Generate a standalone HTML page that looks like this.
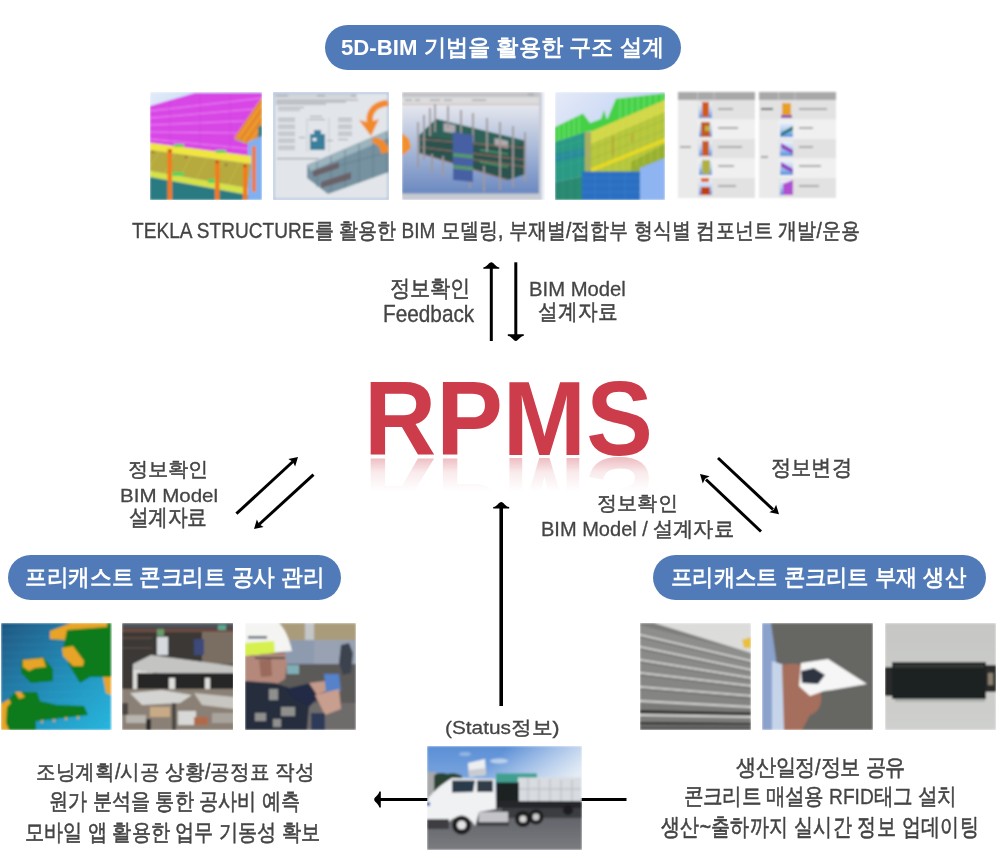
<!DOCTYPE html>
<html><head><meta charset="utf-8"><title>RPMS</title>
<style>
html,body{margin:0;padding:0;background:#fff;}
body{width:1000px;height:860px;position:relative;overflow:hidden;font-family:"Liberation Sans",sans-serif;}
.t{position:absolute;white-space:nowrap;transform-origin:0 0;line-height:1;margin:0;}
.n{-webkit-text-stroke:0.5px #444;filter:blur(0.3px);}
.n .l{-webkit-text-stroke:0.3px #444;}
svg.g{position:absolute;left:0;top:0;}
</style></head><body>
<svg class="g" width="1000" height="860" viewBox="0 0 1000 860">
<defs>
 <filter id="soft" x="-5%" y="-5%" width="110%" height="110%"><feGaussianBlur stdDeviation="0.9"/></filter>
 <clipPath id="cT1"><rect width="112" height="108"/></clipPath>
 <clipPath id="cT2"><rect width="116" height="108"/></clipPath>
 <clipPath id="cT3"><rect width="143" height="108"/></clipPath>
 <clipPath id="cT4"><rect width="110" height="108"/></clipPath>
 <clipPath id="cB"><rect width="111" height="107"/></clipPath>
 <clipPath id="cTr"><rect width="155" height="104"/></clipPath>
 <linearGradient id="gT1sky" x1="0" y1="0" x2="1" y2="1"><stop offset="0" stop-color="#e3ecf8"/><stop offset="1" stop-color="#7eaeee"/></linearGradient>
 <linearGradient id="gT3bg" x1="0" y1="0" x2="0" y2="1"><stop offset="0" stop-color="#e6e8ee"/><stop offset="1" stop-color="#6a88c0"/></linearGradient>
 <linearGradient id="gT4bg" x1="0" y1="0" x2="1" y2="1"><stop offset="0" stop-color="#e6eaf8"/><stop offset="1" stop-color="#a0c0f0"/></linearGradient>
 <linearGradient id="gL1" x1="0" y1="0" x2="1" y2="1"><stop offset="0" stop-color="#1f5682"/><stop offset="0.55" stop-color="#2390ba"/><stop offset="1" stop-color="#28b6de"/></linearGradient>
 <linearGradient id="gSky" x1="0" y1="0" x2="0" y2="1"><stop offset="0" stop-color="#5a8ed6"/><stop offset="1" stop-color="#c4daee"/></linearGradient>
 <linearGradient id="gRoad" x1="0" y1="0" x2="0" y2="1"><stop offset="0" stop-color="#5a5c62"/><stop offset="1" stop-color="#7a7c80"/></linearGradient>
 <linearGradient id="gR3" x1="0" y1="0" x2="0" y2="1"><stop offset="0" stop-color="#c6c7c4"/><stop offset="1" stop-color="#cfd0cd"/></linearGradient>
 <linearGradient id="gCloud" x1="0" y1="0" x2="1" y2="0.4"><stop offset="0.45" stop-color="#ffffff" stop-opacity="0"/><stop offset="1" stop-color="#f0f4f8" stop-opacity="0.9"/></linearGradient>
 <linearGradient id="gIcon" x1="0" y1="0" x2="0" y2="1"><stop offset="0" stop-color="#f0f4fa"/><stop offset="0.5" stop-color="#b8d0f0"/><stop offset="1" stop-color="#4a8ee0"/></linearGradient>
</defs>
<!-- ============ arrows ============ -->
<g stroke="#000" stroke-width="3" fill="none">
 <line x1="491.3" y1="341" x2="491.3" y2="266"/>
 <line x1="515.8" y1="262.3" x2="515.8" y2="337"/>
 <line x1="501.2" y1="706" x2="501.2" y2="506" stroke-width="3.6"/>
 <line x1="626.5" y1="799.5" x2="378" y2="799.5"/>
 <line x1="236.4" y1="513.7" x2="293" y2="461.5"/>
 <line x1="313.5" y1="474.7" x2="259" y2="524.5"/>
 <line x1="761" y1="531.5" x2="706" y2="479.5"/>
 <line x1="718" y1="458" x2="773" y2="509.5"/>
</g>
<g fill="#000">
 <path d="M0,0 C2.5,0 3.5,4 8,5.2 L8,6.6 L-8,6.6 L-8,5.2 C-3.5,4 -2.5,0 0,0 Z" transform="translate(491.3,262.2)"/>
 <path d="M0,0 C2.5,0 3.5,4 8,5.2 L8,6.6 L-8,6.6 L-8,5.2 C-3.5,4 -2.5,0 0,0 Z" transform="translate(515.8,340.9) rotate(180)"/>
 <path d="M0,0 C2.5,0 3.5,4 8,5.2 L8,6.6 L-8,6.6 L-8,5.2 C-3.5,4 -2.5,0 0,0 Z" transform="translate(501.2,501.9)"/>
 <path d="M0,0 C2.5,0 3.5,4 8,5.2 L8,6.6 L-8,6.6 L-8,5.2 C-3.5,4 -2.5,0 0,0 Z" transform="translate(374.2,799.5) rotate(-90)"/>
 <path d="M0 0 L-8.5 -5 L-7 0 L-8.5 5 Z" transform="translate(298,457) rotate(-42.6)"/>
 <path d="M0 0 L-8.5 -5 L-7 0 L-8.5 5 Z" transform="translate(254,529) rotate(137.3)"/>
 <path d="M0 0 L-8.5 -5 L-7 0 L-8.5 5 Z" transform="translate(700,474) rotate(-136.7)"/>
 <path d="M0 0 L-8.5 -5 L-7 0 L-8.5 5 Z" transform="translate(779,514.3) rotate(42.6)"/>
</g>


<!-- ============ T1 ============ -->
<g transform="translate(150,92)" clip-path="url(#cT1)" filter="url(#soft)">
 <rect width="112" height="108" fill="url(#gT1sky)"/>
 <polygon points="0,14 45,1 112,1 112,5 84,46 103,51 101,64 0,51" fill="#d846e6"/>
 <g stroke="#f29af6" stroke-width="0.9" opacity="0.85">
  <line x1="0" y1="19" x2="112" y2="6"/><line x1="0" y1="26" x2="104" y2="17"/><line x1="0" y1="33" x2="94" y2="29"/><line x1="0" y1="40" x2="88" y2="41"/><line x1="0" y1="47" x2="100" y2="57"/>
 </g>
 <g stroke="#b030c0" stroke-width="0.5" opacity="0.5"><line x1="20" y1="8" x2="20" y2="53"/><line x1="50" y1="2" x2="50" y2="56"/><line x1="80" y1="2" x2="80" y2="60"/></g>
 <polygon points="112,5 112,44 97,52 84,46" fill="#e48a2a"/>
 <g stroke="#f8a838" stroke-width="1.3"><line x1="88" y1="46" x2="112" y2="12"/><line x1="93" y1="49" x2="112" y2="22"/><line x1="99" y1="51" x2="112" y2="32"/></g><g stroke="#90c850" stroke-width="1"><line x1="85" y1="47" x2="96" y2="51"/></g><polygon points="108,35 112,33 112,44 108,46" fill="#2a7a80"/>
 <polygon points="98,50 112,44 112,108 98,108" fill="#7eb0f2"/>
 <polygon points="0,51 101,64 101,72 0,58" fill="#f0e63c"/>
 <polygon points="0,58 101,72 98,96 0,79" fill="#b6a93e"/>
 <g stroke="#d4c458" stroke-width="0.7" opacity="0.7"><line x1="10" y1="59" x2="0" y2="75"/><line x1="26" y1="61" x2="14" y2="81"/><line x1="42" y1="63" x2="30" y2="84"/><line x1="58" y1="65" x2="46" y2="87"/><line x1="74" y1="68" x2="62" y2="90"/><line x1="90" y1="70" x2="78" y2="93"/></g>
 <polygon points="0,79 98,96 98,103 0,85" fill="#d6e244"/>
 <polygon points="0,85 98,103 98,108 0,108" fill="#2b7a82"/>
 <g fill="#5cd25c"><rect x="22" y="80" width="12" height="4"/><rect x="58" y="87" width="12" height="4"/><rect x="24" y="52" width="10" height="3"/><rect x="66" y="58" width="10" height="3"/></g>
 <g fill="#f27a1c">
  <rect x="17.5" y="57" width="4.5" height="51"/><rect x="65" y="68" width="4.5" height="40"/><rect x="93" y="72" width="4.5" height="36"/><rect x="102" y="54" width="4" height="46"/>
 </g>
 <g fill="#8a3a20"><circle cx="20" cy="59" r="1.2"/><circle cx="67" cy="70" r="1.2"/><circle cx="95" cy="74" r="1.2"/><circle cx="3" cy="60" r="1"/><circle cx="36" cy="65" r="1"/><circle cx="76" cy="73" r="1"/></g>
</g>

<!-- ============ T2 ============ -->
<g transform="translate(273,92)" clip-path="url(#cT2)" filter="url(#soft)">
 <rect width="116" height="108" fill="#e2e5e9"/>
 <rect x="0.6" y="0.6" width="114.8" height="106.8" fill="none" stroke="#8fb0da" stroke-width="1.3"/>
 <rect x="2" y="2" width="82" height="4" fill="#d0d3d8"/>
 <g fill="#9aa0a8">
  <rect x="3" y="3" width="12" height="1.2"/><rect x="44" y="3" width="8" height="1.2"/><rect x="78" y="3" width="5" height="1.2"/>
  <rect x="3" y="7.5" width="82" height="1"/><rect x="3" y="9.5" width="70" height="1"/><rect x="3" y="11.5" width="50" height="1"/>
  <rect x="5" y="15" width="26" height="1"/><rect x="5" y="17.5" width="22" height="1"/>
  <rect x="5" y="26" width="17" height="1"/><rect x="5" y="28.5" width="17" height="1"/>
  <rect x="5" y="33" width="17" height="1"/><rect x="5" y="35.5" width="17" height="1"/>
  <rect x="5" y="40" width="17" height="1"/><rect x="5" y="42.5" width="17" height="1"/>
  <rect x="5" y="47" width="17" height="1"/><rect x="5" y="49.5" width="17" height="1"/>
  <rect x="5" y="54" width="17" height="1"/><rect x="5" y="56.5" width="17" height="1"/>
  <rect x="37" y="24" width="12" height="1"/><rect x="36" y="27" width="16" height="1"/>
  <rect x="65" y="26" width="14" height="1"/><rect x="65" y="28.5" width="14" height="1"/>
  <rect x="65" y="33" width="14" height="1"/><rect x="65" y="35.5" width="14" height="1"/>
  <rect x="65" y="40" width="14" height="1"/><rect x="65" y="42.5" width="14" height="1"/>
  <rect x="65" y="47" width="10" height="1"/><rect x="26" y="45" width="6" height="1"/><rect x="54" y="48" width="6" height="1"/>
  <rect x="4" y="66" width="42" height="1.2"/>
 </g>
 <g stroke="#b4b8c0" stroke-width="0.6"><line x1="34" y1="26" x2="34" y2="60"/><line x1="56" y1="26" x2="56" y2="60"/></g>
 <path d="M37,42 L41,42 L41,38 L48,38 L48,42 L52,42 L52,58 L37,58 Z" fill="#3a7e9c"/>
 <rect x="39.5" y="46" width="4" height="3" fill="#e8eef2"/>
 <polygon points="34,73 116,38 116,80 55,102 34,86" fill="#7692a0"/>
 <polygon points="34,73 116,38 116,46 38,79" fill="#9cb4be"/>
 <g stroke="#5f7a86" stroke-width="0.8"><line x1="44" y1="70" x2="44" y2="95"/><line x1="58" y1="64" x2="58" y2="100"/><line x1="72" y1="58" x2="72" y2="96"/><line x1="86" y1="52" x2="86" y2="91"/><line x1="100" y1="46" x2="100" y2="86"/><line x1="114" y1="40" x2="114" y2="81"/><line x1="38" y1="81" x2="116" y2="60"/></g>
 <g fill="#6a5a5e" opacity="0.85"><polygon points="40,79 66,70 66,76 40,85"/><polygon points="48,90 78,80 78,87 48,96"/></g>
 <path d="M114,8 C100,9 92,19 94,30 L86,28 L98,44 L106,27 L100,29 C99,21 104,15 116,14 Z" fill="#f28a2c"/>
 <path d="M102,45 C111,47 116,53 116,60 L108,62 C108,55 103,51 98,50 Z" fill="#f28a2c"/>
</g>

<!-- ============ T3 ============ -->
<g transform="translate(402,92)" clip-path="url(#cT3)" filter="url(#soft)">
 <rect width="143" height="108" fill="#e8ecf4"/>
 <rect y="12" width="137" height="90" fill="url(#gT3bg)"/>
 <rect width="137" height="5.5" fill="#c4c4c8"/>
 <rect y="5.5" width="137" height="6.8" fill="#dcdcdc"/>
 <rect y="12" width="137" height="0.8" fill="#c8a8a8"/>
 <g fill="#a8aaae"><rect x="3" y="7.5" width="7" height="1.5"/><rect x="13" y="7.5" width="5" height="1.5"/><rect x="28" y="7.5" width="10" height="1.5"/><rect x="42" y="7.5" width="8" height="1.5"/><rect x="70" y="7.5" width="14" height="1.5"/><rect x="126" y="1.5" width="6" height="2"/></g>
 <rect x="137" y="0" width="3" height="108" fill="#c8ccd6"/>
 <rect x="140" y="0" width="3" height="108" fill="#eef2f8"/>
 <rect y="101.5" width="137" height="6.5" fill="#c6cad2"/>
 <!-- building -->
 <polygon points="17.5,43 34,27 124,49 124,82 106,88 17.5,61" fill="#29524f"/>
 <polygon points="17.5,43 34,27 124,49 110,56" fill="#2f6258"/>
 <g fill="#b0aab0"><polygon points="41.5,31 53.5,33 53.5,41.5 41.5,39.5"/><polygon points="92.5,46 106,49 106,56.5 92.5,54"/></g>
 <g stroke="#9c6c5c" stroke-width="1.1">
  <line x1="17.5" y1="47" x2="124" y2="56"/><line x1="17.5" y1="55" x2="124" y2="68"/><line x1="17.5" y1="61" x2="106" y2="88"/>
  <line x1="60" y1="66" x2="124" y2="75"/>
 </g>
 <g stroke="#5aa86a" stroke-width="1.5" opacity="0.8"><line x1="78" y1="58" x2="106" y2="62"/><line x1="78" y1="70" x2="106" y2="75"/></g>
 <g stroke="#a09898" stroke-width="1.8">
  <line x1="16" y1="30" x2="16" y2="76"/><line x1="22" y1="23" x2="22" y2="68"/><line x1="28" y1="16" x2="28" y2="44"/><line x1="33" y1="12" x2="33" y2="40"/>
  <line x1="46" y1="14" x2="46" y2="36"/><line x1="59" y1="18" x2="59" y2="46"/><line x1="71" y1="21" x2="71" y2="50"/><line x1="85" y1="26" x2="85" y2="60"/>
  <line x1="98" y1="30" x2="98" y2="98"/><line x1="111" y1="34" x2="111" y2="95"/><line x1="123" y1="40" x2="123" y2="90"/>
  <line x1="30" y1="62" x2="30" y2="81"/><line x1="41" y1="64" x2="41" y2="85"/><line x1="68" y1="70" x2="68" y2="96"/><line x1="82" y1="74" x2="82" y2="100"/>
 </g>
 <polygon points="51,40 71,43 71,90 51,88" fill="#4760a4"/>
 <polygon points="51,61 71,63 71,66.5 51,64.5" fill="#5a9a62"/>
 <polygon points="51,73 71,75 71,78.5 51,76.5" fill="#5a9a62"/>
 <polygon points="0,41 7,47 9,56 0,64" fill="#f2902c"/>
</g>

<!-- ============ T4 ============ -->
<g transform="translate(555,92)" clip-path="url(#cT4)" filter="url(#soft)">
 <rect width="110" height="108" fill="url(#gT4bg)"/>
 <polygon points="0,35 28,21.5 35,31 46,27 49,18 52,28 61,6.7 110,1.3 110,12 60,36 30,40 0,50" fill="#44d044"/>
 <g stroke="#a0f0a0" stroke-width="0.7" opacity="0.9"><line x1="4" y1="34" x2="4" y2="48"/><line x1="9" y1="31" x2="9" y2="47"/><line x1="14" y1="29" x2="14" y2="46"/><line x1="19" y1="26" x2="19" y2="45"/><line x1="24" y1="24" x2="24" y2="43"/><line x1="65" y1="7" x2="65" y2="33"/><line x1="71" y1="6" x2="71" y2="30"/><line x1="77" y1="5" x2="77" y2="27"/><line x1="83" y1="4" x2="83" y2="24"/><line x1="89" y1="3" x2="89" y2="21"/><line x1="95" y1="3" x2="95" y2="18"/><line x1="101" y1="2" x2="101" y2="15"/><line x1="107" y1="2" x2="107" y2="13"/></g>
 <polygon points="0,50 30,40 30,84 0,90" fill="#2c9a84"/>
 <polygon points="0,62 30,56 30,64 0,70" fill="#2a7ab0" opacity="0.5"/>
 <polygon points="0,90 30,84 30,108 0,108" fill="#2a8870"/>
 <polygon points="34,40.5 110,8 110,75.5 85,85 34,82" fill="#b4c63c"/>
 <polygon points="34,40.5 110,8 110,20 36,52" fill="#d2d84a"/>
 <polygon points="76,70 110,52 110,75.5 85,85 76,84" fill="#98b032"/>
 <polygon points="34,77 110,46 110,50 34,81" fill="#e8d822"/>
 <polygon points="30,40 36,40 36,82 30,84" fill="#a8b060"/>
 <g stroke="#c07030" stroke-width="0.9" opacity="0.75"><line x1="58" y1="44" x2="58" y2="64"/><line x1="77" y1="42" x2="77" y2="50"/></g>
 <g stroke="#e0e860" stroke-width="0.6" opacity="0.55">
  <line x1="40" y1="40" x2="40" y2="82"/><line x1="47" y1="37" x2="47" y2="82"/><line x1="54" y1="34" x2="54" y2="80"/><line x1="61" y1="31" x2="61" y2="79"/><line x1="68" y1="28" x2="68" y2="78"/><line x1="75" y1="25" x2="75" y2="76"/><line x1="82" y1="22" x2="82" y2="74"/><line x1="89" y1="19" x2="89" y2="72"/><line x1="96" y1="16" x2="96" y2="70"/><line x1="103" y1="13" x2="103" y2="68"/>
 </g>
 <g stroke="#889830" stroke-width="0.5" opacity="0.5"><line x1="34" y1="58" x2="110" y2="28"/><line x1="34" y1="68" x2="110" y2="38"/></g>
 <g stroke="#40c0a0" stroke-width="0.5" opacity="0.5"><line x1="0" y1="56" x2="30" y2="48"/><line x1="0" y1="66" x2="30" y2="58"/><line x1="0" y1="76" x2="30" y2="68"/><line x1="8" y1="48" x2="8" y2="108"/><line x1="16" y1="46" x2="16" y2="108"/><line x1="24" y1="44" x2="24" y2="108"/></g>
 <polygon points="27,79.5 85,79.5 85,108 27,108" fill="#2c70c2"/>
 <g stroke="#4a90d8" stroke-width="0.5" opacity="0.6"><line x1="27" y1="86" x2="85" y2="86"/><line x1="27" y1="93" x2="85" y2="93"/><line x1="27" y1="100" x2="85" y2="100"/><line x1="40" y1="80" x2="40" y2="108"/><line x1="55" y1="80" x2="55" y2="108"/><line x1="70" y1="80" x2="70" y2="108"/></g>
 <polygon points="85,76 110,66 110,108 85,108" fill="#8eb4f2"/>
</g>

<!-- ============ T5 tables ============ -->
<g transform="translate(678,92)" filter="url(#soft)">
 <g id="tbl">
  <rect x="0" y="0" width="77" height="106" fill="#eaeaea"/>
  <rect x="0" y="0" width="77" height="8" fill="#a8a8a8"/>
  <rect x="19.5" y="8" width="57.5" height="19.5" fill="#e2e2e2"/>
  <rect x="19.5" y="27.5" width="57.5" height="19.5" fill="#f0f0f0"/>
  <rect x="19.5" y="47" width="57.5" height="19.5" fill="#e2e2e2"/>
  <rect x="19.5" y="66.5" width="57.5" height="19.5" fill="#f0f0f0"/>
  <rect x="19.5" y="86" width="57.5" height="20" fill="#e2e2e2"/>
  <g fill="#c4c4c4"><rect x="19" y="0" width="1" height="8"/><rect x="35.5" y="0" width="1" height="8"/></g>
 </g>
 <g fill="#a8a8a8">
  <rect x="40" y="16" width="15" height="2"/><rect x="40" y="35" width="20" height="2"/><rect x="40" y="54" width="24" height="2"/><rect x="40" y="73" width="16" height="2"/><rect x="40" y="93" width="18" height="2"/>
  <rect x="2" y="54" width="11" height="2"/>
 </g>
 <g>
  <rect x="21" y="11" width="13" height="15" fill="url(#gIcon)"/><rect x="24" y="10" width="7" height="15" fill="#d05a18"/>
  <rect x="21" y="30" width="13" height="15" fill="url(#gIcon)"/><rect x="23" y="30" width="9" height="15" fill="#c05a20"/><rect x="27" y="34" width="5" height="5" fill="#c0b040"/>
  <rect x="21" y="49" width="13" height="15" fill="url(#gIcon)"/><rect x="24" y="49" width="7" height="15" fill="#c85a20"/>
  <rect x="21" y="68" width="13" height="15" fill="url(#gIcon)"/><rect x="24" y="68" width="8" height="14" fill="#b0b040"/>
  <rect x="21" y="88" width="13" height="15" fill="url(#gIcon)"/><rect x="23" y="86" width="8" height="4" fill="#e06020"/><rect x="23" y="95" width="9" height="8" fill="#c04010"/>
 </g>
 <g transform="translate(81,0)">
  <rect x="0" y="0" width="77" height="106" fill="#eaeaea"/>
  <rect x="0" y="0" width="77" height="8" fill="#a8a8a8"/>
  <rect x="0" y="8" width="77" height="19.5" fill="#e2e2e2"/>
  <rect x="19.5" y="27.5" width="57.5" height="19.5" fill="#f0f0f0"/>
  <rect x="19.5" y="47" width="57.5" height="19.5" fill="#e2e2e2"/>
  <rect x="19.5" y="66.5" width="57.5" height="19.5" fill="#f0f0f0"/>
  <rect x="19.5" y="86" width="57.5" height="20" fill="#e2e2e2"/>
  <g fill="#c4c4c4"><rect x="19" y="0" width="1" height="8"/><rect x="35.5" y="0" width="1" height="8"/></g>
  <g fill="#a8a8a8"><rect x="40" y="16" width="28" height="2"/><rect x="40" y="35" width="14" height="2"/><rect x="40" y="54" width="14" height="2"/><rect x="40" y="73" width="22" height="2"/><rect x="40" y="93" width="20" height="2"/></g>
  <rect x="2" y="16" width="12" height="2" fill="#606060"/><rect x="2" y="64" width="7" height="2" fill="#a0a0a0"/>
  <rect x="23" y="11" width="9" height="13" fill="#e8a020"/><rect x="22" y="23" width="11" height="3" fill="#9050b0"/>
  <rect x="21" y="30" width="13" height="15" fill="url(#gIcon)"/><polygon points="22,41 34,34 34,38 22,44" fill="#207070"/>
  <rect x="21" y="49" width="13" height="15" fill="url(#gIcon)"/><polygon points="22,51 34,58 34,62 22,56" fill="#9040c0"/>
  <rect x="21" y="68" width="13" height="15" fill="url(#gIcon)"/><polygon points="22,70 34,77 34,81 22,75" fill="#9040c0"/>
  <rect x="21" y="88" width="13" height="15" fill="url(#gIcon)"/><polygon points="24,92 34,88 34,103 24,103" fill="#b050d0"/>
 </g>
</g>

<!-- ============ L1 ============ -->
<g transform="translate(1,623)" clip-path="url(#cB)" filter="url(#soft)">
 <rect width="110" height="107" fill="url(#gL1)"/>
 <g stroke="#46b4e0" stroke-width="0.5" opacity="0.35">
  <line x1="0" y1="6" x2="110" y2="4"/><line x1="0" y1="14" x2="110" y2="12"/><line x1="0" y1="22" x2="110" y2="20"/><line x1="0" y1="30" x2="110" y2="28"/><line x1="0" y1="38" x2="110" y2="36"/><line x1="0" y1="46" x2="110" y2="44"/><line x1="0" y1="54" x2="110" y2="52"/><line x1="0" y1="62" x2="110" y2="60"/><line x1="0" y1="70" x2="110" y2="68"/><line x1="0" y1="78" x2="110" y2="76"/><line x1="0" y1="86" x2="110" y2="84"/><line x1="0" y1="94" x2="110" y2="92"/><line x1="0" y1="102" x2="110" y2="100"/>
 </g>
 <polygon points="49,8 70,0 110,0 110,54 89,54 79,60 68,42 62,25 64,17 49,16" fill="#0b7a1e"/>
 <polygon points="70,0 106,0 106,4 66,7 64,17 49,16 49,8" fill="#e8a426"/>
 <polygon points="61,25 72,23 83,38 82,43 72,43 62,33" fill="#e8a426"/>
 <polygon points="20,37 42,34 52,46 52,58 30,60 20,50" fill="#0b7a1e"/>
 <polygon points="22,37 42,35 45,44 34,45 28,48 22,44" fill="#e8a426"/>
 <polygon points="0,81 8,76 14,69 36,69 39,78 56,82 83,83 87,92 35,98 35,107 0,107" fill="#0b7a1e"/>
 <polygon points="0,81 8,76 10,80 6,84 5,100 8,107 0,107" fill="#e8a426"/>
 <polygon points="14,69 20,69 24,74 18,76" fill="#e8a426"/>
 <g fill="#e8a426" opacity="0.8"><rect x="40" y="97" width="2" height="3"/><rect x="52" y="96" width="2" height="3"/><rect x="64" y="94" width="2" height="3"/><rect x="76" y="93" width="2" height="3"/></g>
 <polygon points="102,54 110,54 110,72 105,70" fill="#e8a426"/>
</g>

<!-- ============ L2 ============ -->
<g transform="translate(122,623)" clip-path="url(#cB)" filter="url(#soft)">
 <rect width="112" height="107" fill="#3a3836"/>
 <rect x="0" y="0" width="112" height="5" fill="#50525a"/>
 <rect x="0" y="6" width="112" height="3" fill="#6e4c42"/>
 <rect x="0" y="14" width="30" height="2" fill="#5a4a44"/>
 <rect x="0" y="24" width="30" height="2" fill="#4e4644"/>
 <rect x="80" y="9" width="32" height="32" fill="#7a6e62"/>
 <rect x="72" y="16" width="10" height="16" fill="#3c4a78"/>
 <rect x="35" y="14" width="11" height="18" fill="#d6dade"/>
 <rect x="35" y="6" width="7" height="7" fill="#6a9a6a"/>
 <rect x="96" y="2" width="8" height="5" fill="#5aa890"/>
 <polygon points="11,41 29,32 112,43 112,53 48,52 11,46" fill="#c4c4c2"/>
 <polygon points="11,46 48,52 48,56 11,50" fill="#e2e2de"/>
 <polygon points="48,52 112,53 112,58 48,56" fill="#d8d8d4"/>
 <rect x="12" y="50" width="100" height="18" fill="#262626"/>
 <g fill="#dededa"><rect x="11" y="48" width="4" height="22"/><rect x="47" y="55" width="6" height="24"/><rect x="83" y="55" width="5" height="20"/></g>
 <rect x="0" y="66" width="112" height="41" fill="#8a8074"/>
 <polygon points="8,70 40,67 70,72 58,80 20,82" fill="#d4d4d2"/>
 <polygon points="72,70 112,74 112,86 80,82" fill="#c8c6c0"/>
 <rect x="28" y="84" width="20" height="10" fill="#c8aa86"/>
 <rect x="56" y="88" width="18" height="14" fill="#d8d8d6"/>
 <rect x="72" y="94" width="14" height="8" fill="#b06a48"/>
 <rect x="90" y="90" width="22" height="10" fill="#a8a49c"/>
 <rect x="4" y="92" width="20" height="8" fill="#b8b4ae"/>
 <rect x="0" y="80" width="6" height="12" fill="#4a4440"/>
 <rect x="24" y="96" width="5" height="11" fill="#2a2a2a"/>
 <rect x="50" y="80" width="4" height="27" fill="#4a4644"/>
</g>

<!-- ============ L3 ============ -->
<g transform="translate(245,623)" clip-path="url(#cB)" filter="url(#soft)">
 <rect width="111" height="107" fill="#5e5c5a"/>
 <rect x="30" y="0" width="81" height="18" fill="#aa9c7a"/>
 <rect x="60" y="0" width="9" height="37" fill="#c4c6c8"/>
 <rect x="40" y="17" width="71" height="24" fill="#8e9aae"/>
 <rect x="69" y="17" width="42" height="24" fill="#98a2b2"/>
 <rect x="40" y="41" width="71" height="66" fill="#5c5a58"/>
 <rect x="60" y="80" width="51" height="27" fill="#6e6c6a"/>
 <rect x="42" y="42" width="12" height="9" fill="#80aeb6"/>
 <path d="M96,22 L104,20 L108,30 L106,50 L98,52 L94,40 Z" fill="#3c4250"/>
 <path d="M0,0 L34,0 C40,6 44,16 46,24 L47,28 L0,33 Z" fill="#f4f4f2"/>
 <polygon points="0,20 29,18 30,30 0,33" fill="#d6f04e"/>
 <rect x="3" y="13" width="19" height="2.5" fill="#5a6878"/>
 <polygon points="0,33 40,30 42,42 40,56 30,62 0,60" fill="#b4887a"/>
 <polygon points="14,37 26,36 27,53 16,54" fill="#9a6a5c"/>
 <rect x="10" y="34" width="30" height="2" fill="#505050"/>
 <polygon points="0,58 30,60 42,64 58,72 64,84 62,107 0,107" fill="#262e3e"/>
 <g fill="#aaa8a2" opacity="0.8"><rect x="24" y="66" width="9" height="11"/><rect x="36" y="84" width="14" height="9"/><rect x="10" y="90" width="11" height="8"/><rect x="28" y="96" width="8" height="8"/></g>
 <polygon points="40,66 66,60 78,70 64,84 48,76" fill="#232c44"/>
 <polygon points="64,60 80,58 86,66 72,72" fill="#c49a8a"/>
 <polygon points="79,51 94,51 96,68 81,70" fill="#5482c8"/>
 <polygon points="70,72 94,66 96,86 80,92" fill="#c89e8e"/>
 <rect x="66" y="90" width="14" height="17" fill="#2e3a58"/>
</g>

<!-- ============ Truck ============ -->
<g transform="translate(427,746)" clip-path="url(#cTr)" filter="url(#soft)">
 <rect width="155" height="104" fill="url(#gSky)"/>
 <rect width="155" height="62" fill="url(#gCloud)"/>
 <ellipse cx="72" cy="15" rx="9" ry="2.5" fill="#d6e4f2" opacity="0.7"/>
 <ellipse cx="38" cy="8" rx="6" ry="2" fill="#a8c4e8" opacity="0.7"/>
 <rect x="0" y="26" width="9" height="28" fill="#a6a8aa"/>
 <path d="M7,30 C10,26 16,27 20,28 C26,26 32,28 35,30 L35,52 L7,52 Z" fill="#2a4230"/>
 <rect x="0" y="60" width="155" height="44" fill="url(#gRoad)"/>
 <polygon points="41,17 58,13 59,29 42,31" fill="#eceef0"/>
 <polygon points="42,24 59,22 59,29 42,31" fill="#c8ccd2"/>
 <rect x="69" y="27.4" width="41" height="9.5" fill="#3fa090"/>
 <rect x="91" y="31.5" width="63" height="24" fill="#d8dce0"/>
 <g stroke="#a8aeb4" stroke-width="0.7"><line x1="101" y1="32" x2="101" y2="55"/><line x1="112" y1="33" x2="112" y2="55"/><line x1="123" y1="33" x2="123" y2="55"/><line x1="134" y1="34" x2="134" y2="55"/><line x1="145" y1="34" x2="145" y2="55"/><line x1="91" y1="43" x2="154" y2="43"/></g>
 <rect x="69" y="36.5" width="23" height="22" fill="#1c2024"/>
 <rect x="69" y="55" width="86" height="7" fill="#25272a"/>
 <rect x="75" y="62" width="80" height="10" fill="#34363a" opacity="0.85"/>
 <path d="M0,54 C4,48 14,38 25,32 L68,33 L69,63 L52,66 L48,80 C44,70 28,68 22,76 L0,76 Z" fill="#f0f1f3"/>
 <polygon points="25,34.5 48,34.5 46,46 25,46.5" fill="#2a3a4c"/>
 <polygon points="50,34.5 66,34.5 66,46 50,46" fill="#333d4a"/>
 <rect x="0" y="73" width="22" height="10" fill="#3c3e42"/>
 <rect x="52" y="66" width="29" height="10" fill="#c4c4c8"/>
 <rect x="50" y="76" width="32" height="4" fill="#404246"/>
 <rect x="0" y="56" width="3" height="4" fill="#2a56b0"/>
 <circle cx="34.6" cy="79" r="9.5" fill="#1a1a1c"/><circle cx="34.6" cy="79" r="4.6" fill="#e4e4e6"/>
 <circle cx="96" cy="73" r="8" fill="#1a1a1c"/><circle cx="96" cy="73" r="3.6" fill="#d4d4d6"/>
 <circle cx="109" cy="71" r="7.5" fill="#1a1a1c"/><circle cx="109" cy="71" r="3.4" fill="#cacacc"/>
 <circle cx="141" cy="64" r="5" fill="#1e1e20"/>
</g>

<!-- ============ R1 ============ -->
<g transform="translate(640,623)" clip-path="url(#cB)" filter="url(#soft)">
 <rect width="111" height="107" fill="#7c7c7a"/>
 <polygon points="0,2 111,30 111,40 0,12" fill="#8e8e8c"/>
 <polygon points="0,14 111,40 111,48 0,24" fill="#8c8c8a"/>
 <polygon points="0,26 111,48 111,56 0,37" fill="#8a8a88"/>
 <polygon points="0,38 111,56 111,64 0,50" fill="#888886"/>
 <polygon points="0,52 111,66 111,75 0,64" fill="#868684"/>
 <polygon points="0,66 111,77 111,86 0,77" fill="#848482"/>
 <polygon points="0,80 111,86 111,92 0,88" fill="#7a7a78"/>
 <polygon points="14,0 111,0 111,30" fill="#dcdcda"/>
 <polygon points="102,17 111,14 111,25 104,25" fill="#e8c040"/>
 <g fill="#d4d4d2">
  <polygon points="0,11 111,37 111,39 0,13"/>
  <polygon points="0,23 111,46 111,48 0,25"/>
  <polygon points="0,36 111,54 111,56 0,38"/>
  <polygon points="0,49 111,62 111,64 0,51"/>
  <polygon points="0,63 111,72 111,74 0,65"/>
  <polygon points="0,77 111,83 111,85 0,79"/>
  <polygon points="0,91 111,93 111,95 0,93"/>
 </g>
 <g fill="#5e5e5c" opacity="0.7">
  <polygon points="0,13 111,39 111,40 0,14.5"/>
  <polygon points="0,25 111,48 111,49 0,26.5"/>
  <polygon points="0,38 111,56 111,57 0,39.5"/>
  <polygon points="0,51 111,64 111,65 0,52.5"/>
  <polygon points="0,65 111,74 111,75 0,66.5"/>
 </g>
 <g fill="#2e2e2e">
  <polygon points="0,87 111,89.5 111,92 0,90"/>
  <polygon points="0,99 111,100 111,102 0,101.5"/>
 </g>
 <rect x="0" y="103" width="111" height="4" fill="#5a5a58"/>
</g>

<!-- ============ R2 ============ -->
<g transform="translate(762,623)" clip-path="url(#cB)" filter="url(#soft)">
 <rect width="111" height="107" fill="#666664"/>
 <polygon points="0,0 9,0 14,36 22,107 0,107" fill="#8aa2cc"/>
 <polygon points="10,38 22,42 24,107 10,107" fill="#c6d4ea"/>
 <path d="M20,42 C30,40 40,40 46,46 L58,68 C62,80 56,90 48,92 L40,107 L22,107 Z" fill="#a66e5c"/>
 <polygon points="39,40 66,36 105,61 70,67 62,68 48,73 37,63" fill="#f6f6f6"/>
 <polygon points="39,48 52,45 63,52 56,61 40,60" fill="#2e3440"/>
</g>

<!-- ============ R3 ============ -->
<g transform="translate(885,623)" clip-path="url(#cB)" filter="url(#soft)">
 <rect width="111" height="107" fill="url(#gR3)"/>
 <rect x="0" y="44" width="8" height="29" fill="#2a2c2a"/>
 <rect x="101" y="42" width="10" height="27" fill="#2a2c2a"/>
 <rect x="103" y="50" width="5" height="12" fill="#8a8070"/>
 <rect x="7" y="39" width="94" height="37" fill="#1e2220"/>
 <rect x="9" y="41" width="90" height="4" fill="#303432"/>
 <rect x="10" y="76" width="90" height="3" fill="#9a9c9a" opacity="0.6"/>
</g>

<!-- ============ pills ============ -->
<g fill="#517bb8">
 <rect x="325" y="25" width="356" height="45" rx="22.5"/>
 <rect x="8" y="555" width="333" height="45" rx="22.5"/>
 <rect x="653" y="555" width="333" height="45" rx="22.5"/>
</g>
</svg>

<div style="position:absolute;left:0;top:456.5px;width:1000px;height:38px;overflow:hidden;">
<div class="t" style="left:364.47px;top:89.89px;font-size:101px;font-weight:bold;color:#cc3c4a;opacity:0.35;transform:scale(0.9897,-1.0394);">RPMS</div>
<div style="position:absolute;left:360px;top:0;width:300px;height:38px;background:linear-gradient(to bottom,rgba(255,255,255,0) 0%,rgba(255,255,255,0.7) 40%,#fff 90%);"></div></div>
<div class="t" id="p1" style="left:341.08px;top:36.15px;font-size:24px;font-weight:bold;color:#ffffff;transform:scale(0.9246,0.9522);">5D-BIM 기법을 활용한 구조 설계</div>
<div class="t" id="p2" style="left:24.50px;top:566.34px;font-size:24px;font-weight:bold;color:#ffffff;transform:scale(0.9012,0.9565);">프리캐스트 콘크리트 공사 관리</div>
<div class="t" id="p3" style="left:671.11px;top:566.34px;font-size:24px;font-weight:bold;color:#ffffff;transform:scale(0.8882,0.9565);">프리캐스트 콘크리트 부재 생산</div>
<div class="t n" id="t1" style="left:132.40px;top:219.29px;font-size:21px;font-weight:normal;color:#444444;transform:scale(0.9094,1.0526);"><span class="l">TEKLA STRUCTURE</span>를 활용한<span class="l"> BIM </span>모델링, 부재별/접합부 형식별 컴포넌트 개발/운용</div>
<div class="t n" id="t2" style="left:389.69px;top:275.83px;font-size:21px;font-weight:normal;color:#444444;transform:scale(0.9544,1.0842);">정보확인</div>
<div class="t n" id="t3" style="left:383.02px;top:301.70px;font-size:21px;font-weight:normal;color:#444444;transform:scale(0.9889,1.1000);"><span class="l">Feedback</span></div>
<div class="t n" id="t4" style="left:529.47px;top:279.12px;font-size:21px;font-weight:normal;color:#444444;transform:scale(0.9649,0.9600);"><span class="l">BIM Model</span></div>
<div class="t n" id="t5" style="left:537.75px;top:300.46px;font-size:21px;font-weight:normal;color:#444444;transform:scale(0.9549,1.0684);">설계자료</div>
<div class="t" id="rpms" style="left:364.47px;top:367.01px;font-size:101px;font-weight:bold;color:#cc3c4a;transform:scale(0.9897,1.0394);">RPMS</div>
<div class="t n" id="t6" style="left:128.09px;top:458.71px;font-size:21px;font-weight:normal;color:#444444;transform:scale(0.9570,0.9474);">정보확인</div>
<div class="t n" id="t7" style="left:119.65px;top:485.56px;font-size:21px;font-weight:normal;color:#444444;transform:scale(0.9773,0.8800);"><span class="l">BIM Model</span></div>
<div class="t n" id="t8" style="left:129.08px;top:506.45px;font-size:21px;font-weight:normal;color:#444444;transform:scale(0.9220,1.0737);">설계자료</div>
<div class="t n" id="t9" style="left:770.68px;top:456.12px;font-size:21px;font-weight:normal;color:#444444;transform:scale(0.9608,1.0421);">정보변경</div>
<div class="t n" id="t10" style="left:597.38px;top:492.58px;font-size:21px;font-weight:normal;color:#444444;transform:scale(0.9608,0.9579);">정보확인</div>
<div class="t n" id="t11" style="left:541.29px;top:518.22px;font-size:21px;font-weight:normal;color:#444444;transform:scale(0.9538,0.9895);"><span class="l">BIM Model / </span>설계자료</div>
<div class="t n" id="t12" style="left:445.01px;top:717.58px;font-size:21px;font-weight:normal;color:#444444;transform:scale(0.9912,0.9100);"><span class="l">(Status</span>정보)</div>
<div class="t n" id="t13" style="left:35.72px;top:760.78px;font-size:21px;font-weight:normal;color:#444444;transform:scale(0.9402,1.0105);">조닝계획/시공 상황/공정표 작성</div>
<div class="t n" id="t14" style="left:48.58px;top:789.41px;font-size:21px;font-weight:normal;color:#444444;transform:scale(0.9118,1.0947);">원가 분석을 통한 공사비 예측</div>
<div class="t n" id="t15" style="left:24.57px;top:819.81px;font-size:21px;font-weight:normal;color:#444444;transform:scale(0.9129,1.0947);">모바일 앱 활용한 업무 기동성 확보</div>
<div class="t n" id="t16" style="left:735.76px;top:756.35px;font-size:21px;font-weight:normal;color:#444444;transform:scale(0.9412,1.0737);">생산일정/정보 공유</div>
<div class="t n" id="t17" style="left:683.87px;top:785.25px;font-size:21px;font-weight:normal;color:#444444;transform:scale(0.9140,1.0737);">콘크리트 매설용<span class="l"> RFID</span>태그 설치</div>
<div class="t n" id="t18" style="left:660.98px;top:813.97px;font-size:21px;font-weight:normal;color:#444444;transform:scale(0.9223,1.1632);">생산~출하까지 실시간 정보 업데이팅</div>
</body></html>
